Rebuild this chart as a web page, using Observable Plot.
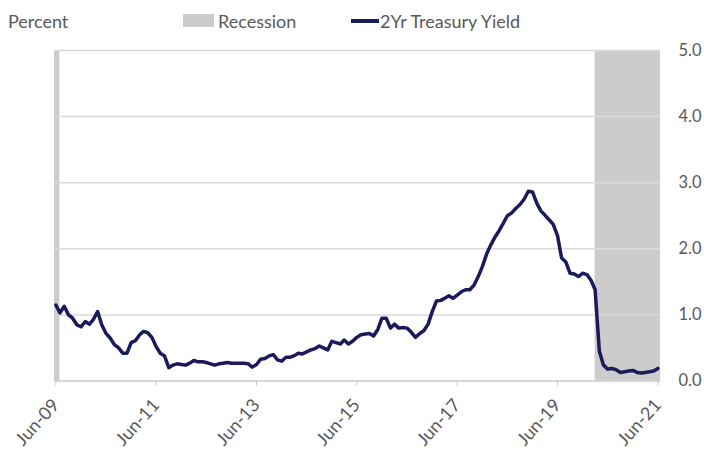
<!DOCTYPE html>
<html>
<head>
<meta charset="utf-8">
<script src="https://cdn.jsdelivr.net/npm/d3@7"></script>
<script src="https://cdn.jsdelivr.net/npm/@observablehq/plot@0.6"></script>
<style>
  html, body { margin: 0; padding: 0; background: #fff; }
  #wrap { position: relative; width: 704px; height: 463px; font-family: Lato, "Open Sans", sans-serif; color: #595959; }
  .lg { position: absolute; font-size: 18px; line-height: 18px; white-space: nowrap; }
  .sw { position: absolute; }
  #chart { position: absolute; left: 0; top: 0; }
</style>
</head>
<body>
<div id="wrap">
  <div id="chart"></div>
  <div class="lg" style="left:8px; top:12px;">Percent</div>
  <div class="sw" style="left:183px; top:14px; width:31px; height:13px; background:#cccccc;"></div>
  <div class="lg" style="left:218px; top:12px;">Recession</div>
  <div class="sw" style="left:351px; top:19px; width:28px; height:3.5px; background:#1a1a5c;"></div>
  <div class="lg" style="left:380px; top:12px;">2Yr Treasury Yield</div>
</div>
<script>
// Monthly 2-year Treasury yield, Jun 2009 .. Jun 2021 (percent)
const startMonth = "2009-06-01";
const yieldValues = [
  1.15, 1.03, 1.13, 1.00, 0.95, 0.85, 0.82, 0.90, 0.86, 0.93,
  1.05, 0.85, 0.72, 0.65, 0.55, 0.50, 0.42, 0.42, 0.58, 0.61,
  0.70, 0.75, 0.73, 0.66, 0.52, 0.42, 0.38, 0.20, 0.24, 0.26,
  0.25, 0.24, 0.27, 0.31, 0.29, 0.29, 0.28, 0.26, 0.24, 0.26,
  0.27, 0.28, 0.27, 0.27, 0.27, 0.27, 0.26, 0.21, 0.25, 0.33,
  0.34, 0.38, 0.40, 0.32, 0.30, 0.36, 0.36, 0.38, 0.42, 0.41,
  0.44, 0.47, 0.49, 0.53, 0.50, 0.47, 0.60, 0.58, 0.56, 0.62,
  0.56, 0.60, 0.66, 0.70, 0.71, 0.72, 0.68, 0.78, 0.95, 0.95,
  0.80, 0.86, 0.80, 0.81, 0.80, 0.74, 0.66, 0.72, 0.76, 0.86,
  1.05, 1.21, 1.22, 1.25, 1.29, 1.25, 1.30, 1.35, 1.38, 1.38,
  1.45, 1.58, 1.73, 1.92, 2.06, 2.17, 2.27, 2.38, 2.50, 2.54,
  2.61, 2.67, 2.75, 2.87, 2.86, 2.69, 2.57, 2.51, 2.44, 2.37,
  2.20, 1.86, 1.80, 1.63, 1.62, 1.58, 1.63, 1.61, 1.52, 1.38,
  0.45, 0.24, 0.18, 0.19, 0.17, 0.13, 0.14, 0.15, 0.16, 0.13,
  0.12, 0.13, 0.14, 0.15, 0.19
];
// Recession periods
const recessionStart = ["2007-12-01", "2020-03-01"];
const recessionEnd   = ["2009-06-30", "2021-06-20"];
// Axis ticks
const xTickDates = ["2009-06-01", "2011-06-01", "2013-06-01", "2015-06-01", "2017-06-01", "2019-06-01", "2021-06-01"];
const yTicks = [0, 1, 2, 3, 4, 5];

const parse = d3.utcParse("%Y-%m-%d");
const months = d3.utcMonth.range(parse(startMonth), d3.utcMonth.offset(parse(startMonth), yieldValues.length));
const series = yieldValues.map((v, i) => ({date: months[i], value: v}));
const recessions = recessionStart.map((s, i) => ({x1: parse(s), x2: parse(recessionEnd[i])}));
const xDomain = [parse("2009-05-22"), parse("2021-06-20")];

const chart = Plot.plot({
  width: 704,
  height: 463,
  marginTop: 50,
  marginBottom: 82.5,
  marginLeft: 54,
  marginRight: 44,
  style: {fontFamily: 'Lato, "Open Sans", sans-serif', color: "#595959", background: "transparent"},
  x: {type: "utc", domain: xDomain},
  y: {domain: [0, 5]},
  marks: [
    Plot.rect(recessions, {x1: "x1", x2: "x2", y1: 0, y2: 5, fill: "#cccccc", clip: true}),
    Plot.gridY(yTicks.filter(d => d > 0), {stroke: "#d9d9d9", strokeOpacity: 1, strokeWidth: 1.5}),
    Plot.ruleY([0], {stroke: "#c8c8c8", strokeWidth: 1.5}),
    Plot.line(series, {x: "date", y: "value", stroke: "#1a1a5c", strokeWidth: 3.5, strokeLinejoin: "round", clip: true}),
    Plot.axisY(yTicks, {anchor: "right", tickSize: 0, tickPadding: 18, tickFormat: d3.format(".1f"), fontSize: 16.5, textAnchor: "start", label: null}),
    Plot.axisX(xTickDates.map(parse), {anchor: "bottom", tickSize: 5, stroke: "#c8c8c8", tickRotate: -48, tickPadding: 16, tickFormat: d3.utcFormat("%b-%y"), fontSize: 18, label: null})
  ]
});
document.getElementById("chart").appendChild(chart);
</script>
</body>
</html>
